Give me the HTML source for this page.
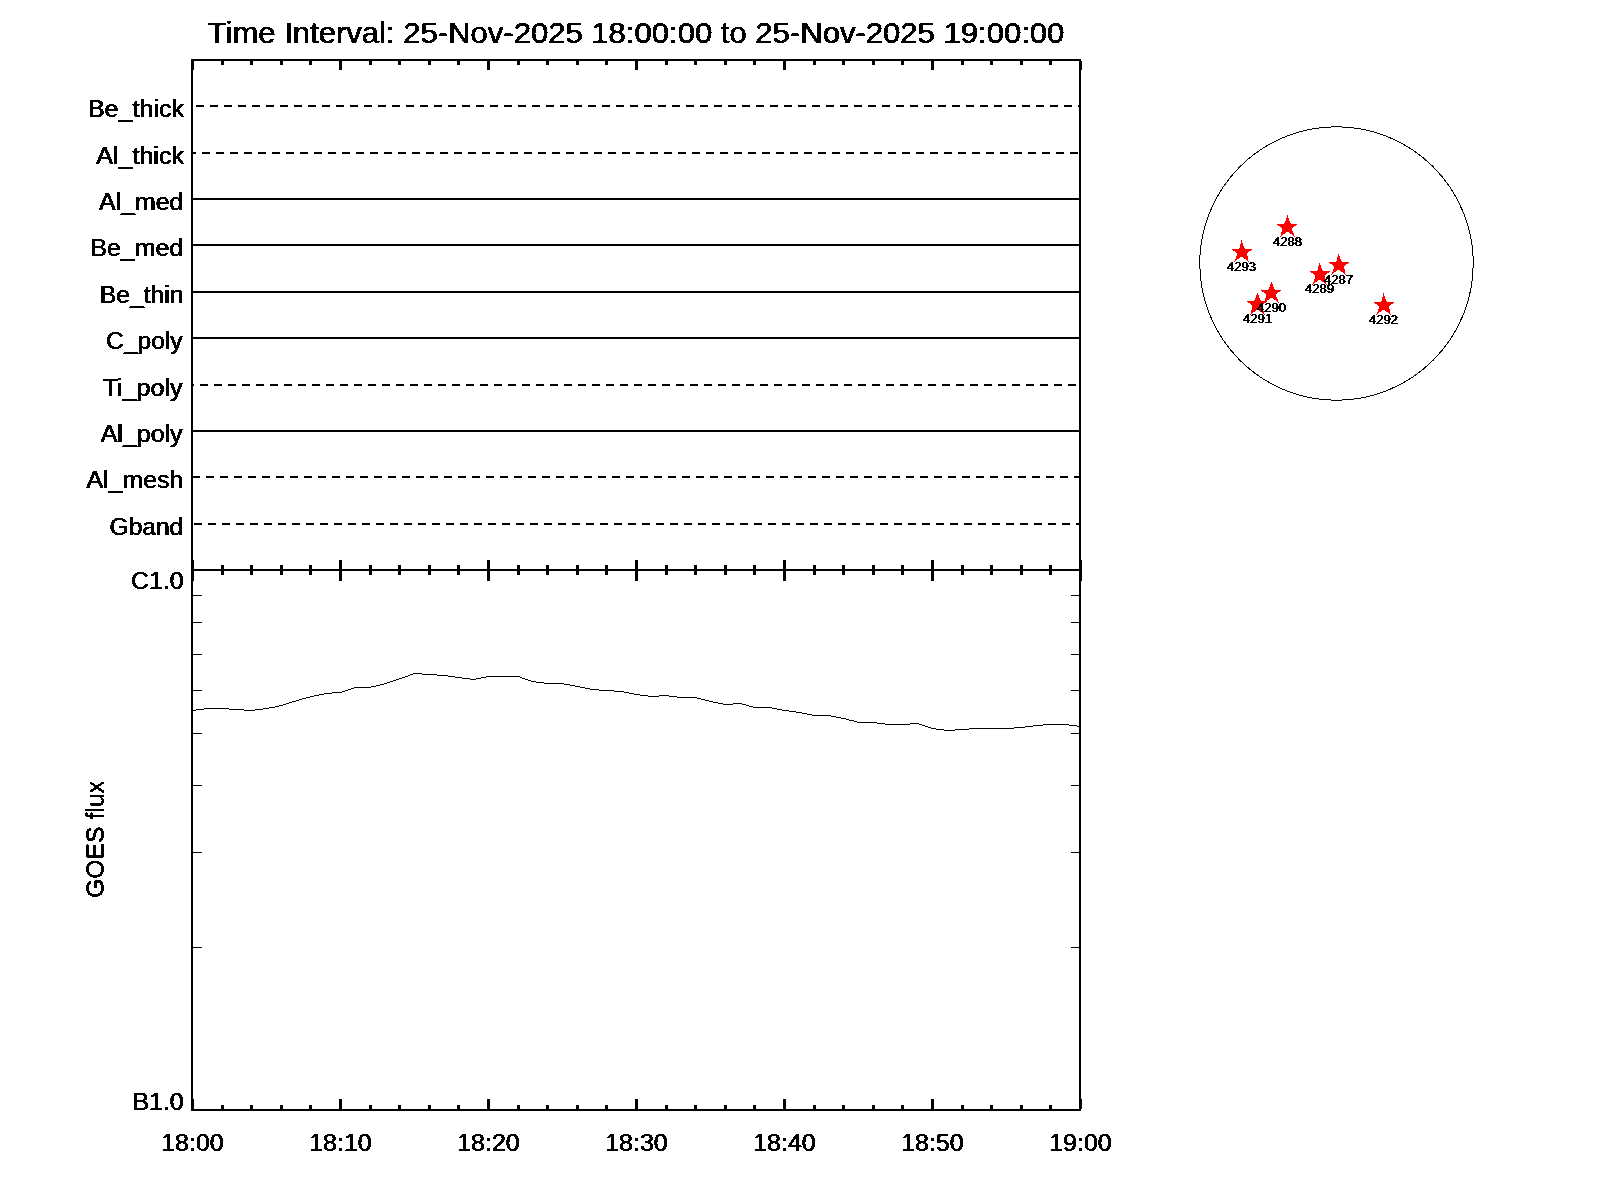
<!DOCTYPE html>
<html><head><meta charset="utf-8"><title>XRT filter timeline</title>
<style>html,body{margin:0;padding:0;background:#fff;}body{width:1600px;height:1200px;overflow:hidden;}svg{display:block;font-family:"Liberation Sans",sans-serif;}text{fill:#000;}</style>
</head><body><div style="will-change:transform;width:1600px;height:1200px">
<svg width="1600" height="1200" viewBox="0 0 1600 1200">
<defs><filter id="thr" filterUnits="userSpaceOnUse" x="0" y="0" width="1600" height="1200" color-interpolation-filters="sRGB"><feComponentTransfer><feFuncA type="discrete" tableValues="0 1"/></feComponentTransfer></filter></defs>
<rect x="0" y="0" width="1600" height="1200" fill="#fff"/>
<g shape-rendering="crispEdges" fill="#000" stroke="none">
<rect x="191" y="59" width="2" height="1052"/>
<rect x="1079" y="59" width="2" height="1052"/>
<rect x="191" y="59" width="890" height="2"/>
<rect x="191" y="569" width="890" height="2"/>
<rect x="191" y="1109" width="890" height="2"/>
<rect x="191" y="61" width="3" height="9"/>
<rect x="191" y="560" width="3" height="21"/>
<rect x="191" y="1099" width="3" height="10"/>
<rect x="221" y="61" width="3" height="4"/>
<rect x="221" y="565" width="3" height="10"/>
<rect x="221" y="1105" width="3" height="4"/>
<rect x="250" y="61" width="3" height="4"/>
<rect x="250" y="565" width="3" height="10"/>
<rect x="250" y="1105" width="3" height="4"/>
<rect x="280" y="61" width="3" height="4"/>
<rect x="280" y="565" width="3" height="10"/>
<rect x="280" y="1105" width="3" height="4"/>
<rect x="309" y="61" width="3" height="4"/>
<rect x="309" y="565" width="3" height="10"/>
<rect x="309" y="1105" width="3" height="4"/>
<rect x="339" y="61" width="3" height="9"/>
<rect x="339" y="560" width="3" height="21"/>
<rect x="339" y="1099" width="3" height="10"/>
<rect x="369" y="61" width="3" height="4"/>
<rect x="369" y="565" width="3" height="10"/>
<rect x="369" y="1105" width="3" height="4"/>
<rect x="398" y="61" width="3" height="4"/>
<rect x="398" y="565" width="3" height="10"/>
<rect x="398" y="1105" width="3" height="4"/>
<rect x="428" y="61" width="3" height="4"/>
<rect x="428" y="565" width="3" height="10"/>
<rect x="428" y="1105" width="3" height="4"/>
<rect x="457" y="61" width="3" height="4"/>
<rect x="457" y="565" width="3" height="10"/>
<rect x="457" y="1105" width="3" height="4"/>
<rect x="487" y="61" width="3" height="9"/>
<rect x="487" y="560" width="3" height="21"/>
<rect x="487" y="1099" width="3" height="10"/>
<rect x="517" y="61" width="3" height="4"/>
<rect x="517" y="565" width="3" height="10"/>
<rect x="517" y="1105" width="3" height="4"/>
<rect x="546" y="61" width="3" height="4"/>
<rect x="546" y="565" width="3" height="10"/>
<rect x="546" y="1105" width="3" height="4"/>
<rect x="576" y="61" width="3" height="4"/>
<rect x="576" y="565" width="3" height="10"/>
<rect x="576" y="1105" width="3" height="4"/>
<rect x="605" y="61" width="3" height="4"/>
<rect x="605" y="565" width="3" height="10"/>
<rect x="605" y="1105" width="3" height="4"/>
<rect x="635" y="61" width="3" height="9"/>
<rect x="635" y="560" width="3" height="21"/>
<rect x="635" y="1099" width="3" height="10"/>
<rect x="665" y="61" width="3" height="4"/>
<rect x="665" y="565" width="3" height="10"/>
<rect x="665" y="1105" width="3" height="4"/>
<rect x="694" y="61" width="3" height="4"/>
<rect x="694" y="565" width="3" height="10"/>
<rect x="694" y="1105" width="3" height="4"/>
<rect x="724" y="61" width="3" height="4"/>
<rect x="724" y="565" width="3" height="10"/>
<rect x="724" y="1105" width="3" height="4"/>
<rect x="753" y="61" width="3" height="4"/>
<rect x="753" y="565" width="3" height="10"/>
<rect x="753" y="1105" width="3" height="4"/>
<rect x="783" y="61" width="3" height="9"/>
<rect x="783" y="560" width="3" height="21"/>
<rect x="783" y="1099" width="3" height="10"/>
<rect x="813" y="61" width="3" height="4"/>
<rect x="813" y="565" width="3" height="10"/>
<rect x="813" y="1105" width="3" height="4"/>
<rect x="842" y="61" width="3" height="4"/>
<rect x="842" y="565" width="3" height="10"/>
<rect x="842" y="1105" width="3" height="4"/>
<rect x="872" y="61" width="3" height="4"/>
<rect x="872" y="565" width="3" height="10"/>
<rect x="872" y="1105" width="3" height="4"/>
<rect x="901" y="61" width="3" height="4"/>
<rect x="901" y="565" width="3" height="10"/>
<rect x="901" y="1105" width="3" height="4"/>
<rect x="931" y="61" width="3" height="9"/>
<rect x="931" y="560" width="3" height="21"/>
<rect x="931" y="1099" width="3" height="10"/>
<rect x="961" y="61" width="3" height="4"/>
<rect x="961" y="565" width="3" height="10"/>
<rect x="961" y="1105" width="3" height="4"/>
<rect x="990" y="61" width="3" height="4"/>
<rect x="990" y="565" width="3" height="10"/>
<rect x="990" y="1105" width="3" height="4"/>
<rect x="1020" y="61" width="3" height="4"/>
<rect x="1020" y="565" width="3" height="10"/>
<rect x="1020" y="1105" width="3" height="4"/>
<rect x="1049" y="61" width="3" height="4"/>
<rect x="1049" y="565" width="3" height="10"/>
<rect x="1049" y="1105" width="3" height="4"/>
<rect x="1079" y="61" width="3" height="9"/>
<rect x="1079" y="560" width="3" height="21"/>
<rect x="1079" y="1099" width="3" height="10"/>
<rect x="193" y="947" width="9" height="1"/>
<rect x="1071" y="947" width="8" height="1"/>
<rect x="193" y="852" width="9" height="1"/>
<rect x="1071" y="852" width="8" height="1"/>
<rect x="193" y="785" width="9" height="1"/>
<rect x="1071" y="785" width="8" height="1"/>
<rect x="193" y="733" width="9" height="1"/>
<rect x="1071" y="733" width="8" height="1"/>
<rect x="193" y="690" width="9" height="1"/>
<rect x="1071" y="690" width="8" height="1"/>
<rect x="193" y="654" width="9" height="1"/>
<rect x="1071" y="654" width="8" height="1"/>
<rect x="193" y="622" width="9" height="1"/>
<rect x="1071" y="622" width="8" height="1"/>
<rect x="193" y="595" width="9" height="1"/>
<rect x="1071" y="595" width="8" height="1"/>
<rect x="196" y="105" width="8" height="2"/>
<rect x="210" y="105" width="8" height="2"/>
<rect x="224" y="105" width="8" height="2"/>
<rect x="238" y="105" width="8" height="2"/>
<rect x="252" y="105" width="8" height="2"/>
<rect x="266" y="105" width="8" height="2"/>
<rect x="280" y="105" width="8" height="2"/>
<rect x="294" y="105" width="8" height="2"/>
<rect x="308" y="105" width="8" height="2"/>
<rect x="322" y="105" width="8" height="2"/>
<rect x="336" y="105" width="8" height="2"/>
<rect x="350" y="105" width="8" height="2"/>
<rect x="364" y="105" width="8" height="2"/>
<rect x="378" y="105" width="8" height="2"/>
<rect x="392" y="105" width="8" height="2"/>
<rect x="406" y="105" width="8" height="2"/>
<rect x="420" y="105" width="8" height="2"/>
<rect x="434" y="105" width="8" height="2"/>
<rect x="448" y="105" width="8" height="2"/>
<rect x="462" y="105" width="8" height="2"/>
<rect x="476" y="105" width="8" height="2"/>
<rect x="490" y="105" width="8" height="2"/>
<rect x="504" y="105" width="8" height="2"/>
<rect x="518" y="105" width="8" height="2"/>
<rect x="532" y="105" width="8" height="2"/>
<rect x="546" y="105" width="8" height="2"/>
<rect x="560" y="105" width="8" height="2"/>
<rect x="574" y="105" width="8" height="2"/>
<rect x="588" y="105" width="8" height="2"/>
<rect x="602" y="105" width="8" height="2"/>
<rect x="616" y="105" width="8" height="2"/>
<rect x="630" y="105" width="8" height="2"/>
<rect x="644" y="105" width="8" height="2"/>
<rect x="658" y="105" width="8" height="2"/>
<rect x="672" y="105" width="8" height="2"/>
<rect x="686" y="105" width="8" height="2"/>
<rect x="700" y="105" width="8" height="2"/>
<rect x="714" y="105" width="8" height="2"/>
<rect x="728" y="105" width="8" height="2"/>
<rect x="742" y="105" width="8" height="2"/>
<rect x="756" y="105" width="8" height="2"/>
<rect x="770" y="105" width="8" height="2"/>
<rect x="784" y="105" width="8" height="2"/>
<rect x="798" y="105" width="8" height="2"/>
<rect x="812" y="105" width="8" height="2"/>
<rect x="826" y="105" width="8" height="2"/>
<rect x="840" y="105" width="8" height="2"/>
<rect x="854" y="105" width="8" height="2"/>
<rect x="868" y="105" width="8" height="2"/>
<rect x="882" y="105" width="8" height="2"/>
<rect x="896" y="105" width="8" height="2"/>
<rect x="910" y="105" width="8" height="2"/>
<rect x="924" y="105" width="8" height="2"/>
<rect x="938" y="105" width="8" height="2"/>
<rect x="952" y="105" width="8" height="2"/>
<rect x="966" y="105" width="8" height="2"/>
<rect x="980" y="105" width="8" height="2"/>
<rect x="994" y="105" width="8" height="2"/>
<rect x="1008" y="105" width="8" height="2"/>
<rect x="1022" y="105" width="8" height="2"/>
<rect x="1036" y="105" width="8" height="2"/>
<rect x="1050" y="105" width="8" height="2"/>
<rect x="1064" y="105" width="8" height="2"/>
<rect x="1078" y="105" width="1" height="2"/>
<rect x="193" y="152" width="3" height="2"/>
<rect x="202" y="152" width="8" height="2"/>
<rect x="216" y="152" width="8" height="2"/>
<rect x="230" y="152" width="8" height="2"/>
<rect x="244" y="152" width="8" height="2"/>
<rect x="258" y="152" width="8" height="2"/>
<rect x="272" y="152" width="8" height="2"/>
<rect x="286" y="152" width="8" height="2"/>
<rect x="300" y="152" width="8" height="2"/>
<rect x="314" y="152" width="8" height="2"/>
<rect x="328" y="152" width="8" height="2"/>
<rect x="342" y="152" width="8" height="2"/>
<rect x="356" y="152" width="8" height="2"/>
<rect x="370" y="152" width="8" height="2"/>
<rect x="384" y="152" width="8" height="2"/>
<rect x="398" y="152" width="8" height="2"/>
<rect x="412" y="152" width="8" height="2"/>
<rect x="426" y="152" width="8" height="2"/>
<rect x="440" y="152" width="8" height="2"/>
<rect x="454" y="152" width="8" height="2"/>
<rect x="468" y="152" width="8" height="2"/>
<rect x="482" y="152" width="8" height="2"/>
<rect x="496" y="152" width="8" height="2"/>
<rect x="510" y="152" width="8" height="2"/>
<rect x="524" y="152" width="8" height="2"/>
<rect x="538" y="152" width="8" height="2"/>
<rect x="552" y="152" width="8" height="2"/>
<rect x="566" y="152" width="8" height="2"/>
<rect x="580" y="152" width="8" height="2"/>
<rect x="594" y="152" width="8" height="2"/>
<rect x="608" y="152" width="8" height="2"/>
<rect x="622" y="152" width="8" height="2"/>
<rect x="636" y="152" width="8" height="2"/>
<rect x="650" y="152" width="8" height="2"/>
<rect x="664" y="152" width="8" height="2"/>
<rect x="678" y="152" width="8" height="2"/>
<rect x="692" y="152" width="8" height="2"/>
<rect x="706" y="152" width="8" height="2"/>
<rect x="720" y="152" width="8" height="2"/>
<rect x="734" y="152" width="8" height="2"/>
<rect x="748" y="152" width="8" height="2"/>
<rect x="762" y="152" width="8" height="2"/>
<rect x="776" y="152" width="8" height="2"/>
<rect x="790" y="152" width="8" height="2"/>
<rect x="804" y="152" width="8" height="2"/>
<rect x="818" y="152" width="8" height="2"/>
<rect x="832" y="152" width="8" height="2"/>
<rect x="846" y="152" width="8" height="2"/>
<rect x="860" y="152" width="8" height="2"/>
<rect x="874" y="152" width="8" height="2"/>
<rect x="888" y="152" width="8" height="2"/>
<rect x="902" y="152" width="8" height="2"/>
<rect x="916" y="152" width="8" height="2"/>
<rect x="930" y="152" width="8" height="2"/>
<rect x="944" y="152" width="8" height="2"/>
<rect x="958" y="152" width="8" height="2"/>
<rect x="972" y="152" width="8" height="2"/>
<rect x="986" y="152" width="8" height="2"/>
<rect x="1000" y="152" width="8" height="2"/>
<rect x="1014" y="152" width="8" height="2"/>
<rect x="1028" y="152" width="8" height="2"/>
<rect x="1042" y="152" width="8" height="2"/>
<rect x="1056" y="152" width="8" height="2"/>
<rect x="1070" y="152" width="8" height="2"/>
<rect x="193" y="198" width="886" height="2"/>
<rect x="193" y="244" width="886" height="2"/>
<rect x="193" y="291" width="886" height="2"/>
<rect x="193" y="337" width="886" height="2"/>
<rect x="193" y="384" width="1" height="2"/>
<rect x="200" y="384" width="8" height="2"/>
<rect x="214" y="384" width="8" height="2"/>
<rect x="228" y="384" width="8" height="2"/>
<rect x="242" y="384" width="8" height="2"/>
<rect x="256" y="384" width="8" height="2"/>
<rect x="270" y="384" width="8" height="2"/>
<rect x="284" y="384" width="8" height="2"/>
<rect x="298" y="384" width="8" height="2"/>
<rect x="312" y="384" width="8" height="2"/>
<rect x="326" y="384" width="8" height="2"/>
<rect x="340" y="384" width="8" height="2"/>
<rect x="354" y="384" width="8" height="2"/>
<rect x="368" y="384" width="8" height="2"/>
<rect x="382" y="384" width="8" height="2"/>
<rect x="396" y="384" width="8" height="2"/>
<rect x="410" y="384" width="8" height="2"/>
<rect x="424" y="384" width="8" height="2"/>
<rect x="438" y="384" width="8" height="2"/>
<rect x="452" y="384" width="8" height="2"/>
<rect x="466" y="384" width="8" height="2"/>
<rect x="480" y="384" width="8" height="2"/>
<rect x="494" y="384" width="8" height="2"/>
<rect x="508" y="384" width="8" height="2"/>
<rect x="522" y="384" width="8" height="2"/>
<rect x="536" y="384" width="8" height="2"/>
<rect x="550" y="384" width="8" height="2"/>
<rect x="564" y="384" width="8" height="2"/>
<rect x="578" y="384" width="8" height="2"/>
<rect x="592" y="384" width="8" height="2"/>
<rect x="606" y="384" width="8" height="2"/>
<rect x="620" y="384" width="8" height="2"/>
<rect x="634" y="384" width="8" height="2"/>
<rect x="648" y="384" width="8" height="2"/>
<rect x="662" y="384" width="8" height="2"/>
<rect x="676" y="384" width="8" height="2"/>
<rect x="690" y="384" width="8" height="2"/>
<rect x="704" y="384" width="8" height="2"/>
<rect x="718" y="384" width="8" height="2"/>
<rect x="732" y="384" width="8" height="2"/>
<rect x="746" y="384" width="8" height="2"/>
<rect x="760" y="384" width="8" height="2"/>
<rect x="774" y="384" width="8" height="2"/>
<rect x="788" y="384" width="8" height="2"/>
<rect x="802" y="384" width="8" height="2"/>
<rect x="816" y="384" width="8" height="2"/>
<rect x="830" y="384" width="8" height="2"/>
<rect x="844" y="384" width="8" height="2"/>
<rect x="858" y="384" width="8" height="2"/>
<rect x="872" y="384" width="8" height="2"/>
<rect x="886" y="384" width="8" height="2"/>
<rect x="900" y="384" width="8" height="2"/>
<rect x="914" y="384" width="8" height="2"/>
<rect x="928" y="384" width="8" height="2"/>
<rect x="942" y="384" width="8" height="2"/>
<rect x="956" y="384" width="8" height="2"/>
<rect x="970" y="384" width="8" height="2"/>
<rect x="984" y="384" width="8" height="2"/>
<rect x="998" y="384" width="8" height="2"/>
<rect x="1012" y="384" width="8" height="2"/>
<rect x="1026" y="384" width="8" height="2"/>
<rect x="1040" y="384" width="8" height="2"/>
<rect x="1054" y="384" width="8" height="2"/>
<rect x="1068" y="384" width="8" height="2"/>
<rect x="193" y="430" width="886" height="2"/>
<rect x="193" y="476" width="7" height="2"/>
<rect x="206" y="476" width="8" height="2"/>
<rect x="220" y="476" width="8" height="2"/>
<rect x="234" y="476" width="8" height="2"/>
<rect x="248" y="476" width="8" height="2"/>
<rect x="262" y="476" width="8" height="2"/>
<rect x="276" y="476" width="8" height="2"/>
<rect x="290" y="476" width="8" height="2"/>
<rect x="304" y="476" width="8" height="2"/>
<rect x="318" y="476" width="8" height="2"/>
<rect x="332" y="476" width="8" height="2"/>
<rect x="346" y="476" width="8" height="2"/>
<rect x="360" y="476" width="8" height="2"/>
<rect x="374" y="476" width="8" height="2"/>
<rect x="388" y="476" width="8" height="2"/>
<rect x="402" y="476" width="8" height="2"/>
<rect x="416" y="476" width="8" height="2"/>
<rect x="430" y="476" width="8" height="2"/>
<rect x="444" y="476" width="8" height="2"/>
<rect x="458" y="476" width="8" height="2"/>
<rect x="472" y="476" width="8" height="2"/>
<rect x="486" y="476" width="8" height="2"/>
<rect x="500" y="476" width="8" height="2"/>
<rect x="514" y="476" width="8" height="2"/>
<rect x="528" y="476" width="8" height="2"/>
<rect x="542" y="476" width="8" height="2"/>
<rect x="556" y="476" width="8" height="2"/>
<rect x="570" y="476" width="8" height="2"/>
<rect x="584" y="476" width="8" height="2"/>
<rect x="598" y="476" width="8" height="2"/>
<rect x="612" y="476" width="8" height="2"/>
<rect x="626" y="476" width="8" height="2"/>
<rect x="640" y="476" width="8" height="2"/>
<rect x="654" y="476" width="8" height="2"/>
<rect x="668" y="476" width="8" height="2"/>
<rect x="682" y="476" width="8" height="2"/>
<rect x="696" y="476" width="8" height="2"/>
<rect x="710" y="476" width="8" height="2"/>
<rect x="724" y="476" width="8" height="2"/>
<rect x="738" y="476" width="8" height="2"/>
<rect x="752" y="476" width="8" height="2"/>
<rect x="766" y="476" width="8" height="2"/>
<rect x="780" y="476" width="8" height="2"/>
<rect x="794" y="476" width="8" height="2"/>
<rect x="808" y="476" width="8" height="2"/>
<rect x="822" y="476" width="8" height="2"/>
<rect x="836" y="476" width="8" height="2"/>
<rect x="850" y="476" width="8" height="2"/>
<rect x="864" y="476" width="8" height="2"/>
<rect x="878" y="476" width="8" height="2"/>
<rect x="892" y="476" width="8" height="2"/>
<rect x="906" y="476" width="8" height="2"/>
<rect x="920" y="476" width="8" height="2"/>
<rect x="934" y="476" width="8" height="2"/>
<rect x="948" y="476" width="8" height="2"/>
<rect x="962" y="476" width="8" height="2"/>
<rect x="976" y="476" width="8" height="2"/>
<rect x="990" y="476" width="8" height="2"/>
<rect x="1004" y="476" width="8" height="2"/>
<rect x="1018" y="476" width="8" height="2"/>
<rect x="1032" y="476" width="8" height="2"/>
<rect x="1046" y="476" width="8" height="2"/>
<rect x="1060" y="476" width="8" height="2"/>
<rect x="1074" y="476" width="5" height="2"/>
<rect x="194" y="523" width="8" height="2"/>
<rect x="208" y="523" width="8" height="2"/>
<rect x="222" y="523" width="8" height="2"/>
<rect x="236" y="523" width="8" height="2"/>
<rect x="250" y="523" width="8" height="2"/>
<rect x="264" y="523" width="8" height="2"/>
<rect x="278" y="523" width="8" height="2"/>
<rect x="292" y="523" width="8" height="2"/>
<rect x="306" y="523" width="8" height="2"/>
<rect x="320" y="523" width="8" height="2"/>
<rect x="334" y="523" width="8" height="2"/>
<rect x="348" y="523" width="8" height="2"/>
<rect x="362" y="523" width="8" height="2"/>
<rect x="376" y="523" width="8" height="2"/>
<rect x="390" y="523" width="8" height="2"/>
<rect x="404" y="523" width="8" height="2"/>
<rect x="418" y="523" width="8" height="2"/>
<rect x="432" y="523" width="8" height="2"/>
<rect x="446" y="523" width="8" height="2"/>
<rect x="460" y="523" width="8" height="2"/>
<rect x="474" y="523" width="8" height="2"/>
<rect x="488" y="523" width="8" height="2"/>
<rect x="502" y="523" width="8" height="2"/>
<rect x="516" y="523" width="8" height="2"/>
<rect x="530" y="523" width="8" height="2"/>
<rect x="544" y="523" width="8" height="2"/>
<rect x="558" y="523" width="8" height="2"/>
<rect x="572" y="523" width="8" height="2"/>
<rect x="586" y="523" width="8" height="2"/>
<rect x="600" y="523" width="8" height="2"/>
<rect x="614" y="523" width="8" height="2"/>
<rect x="628" y="523" width="8" height="2"/>
<rect x="642" y="523" width="8" height="2"/>
<rect x="656" y="523" width="8" height="2"/>
<rect x="670" y="523" width="8" height="2"/>
<rect x="684" y="523" width="8" height="2"/>
<rect x="698" y="523" width="8" height="2"/>
<rect x="712" y="523" width="8" height="2"/>
<rect x="726" y="523" width="8" height="2"/>
<rect x="740" y="523" width="8" height="2"/>
<rect x="754" y="523" width="8" height="2"/>
<rect x="768" y="523" width="8" height="2"/>
<rect x="782" y="523" width="8" height="2"/>
<rect x="796" y="523" width="8" height="2"/>
<rect x="810" y="523" width="8" height="2"/>
<rect x="824" y="523" width="8" height="2"/>
<rect x="838" y="523" width="8" height="2"/>
<rect x="852" y="523" width="8" height="2"/>
<rect x="866" y="523" width="8" height="2"/>
<rect x="880" y="523" width="8" height="2"/>
<rect x="894" y="523" width="8" height="2"/>
<rect x="908" y="523" width="8" height="2"/>
<rect x="922" y="523" width="8" height="2"/>
<rect x="936" y="523" width="8" height="2"/>
<rect x="950" y="523" width="8" height="2"/>
<rect x="964" y="523" width="8" height="2"/>
<rect x="978" y="523" width="8" height="2"/>
<rect x="992" y="523" width="8" height="2"/>
<rect x="1006" y="523" width="8" height="2"/>
<rect x="1020" y="523" width="8" height="2"/>
<rect x="1034" y="523" width="8" height="2"/>
<rect x="1048" y="523" width="8" height="2"/>
<rect x="1062" y="523" width="8" height="2"/>
<rect x="1076" y="523" width="3" height="2"/>
</g>
<path shape-rendering="crispEdges" fill="#000" d="M193 710h3v1h-3zM196 709h8v1h-8zM204 708h25v1h-25zM229 709h15v1h-15zM244 710h11v1h-11zM255 709h8v1h-8zM263 708h6v1h-6zM269 707h6v1h-6zM275 706h4v1h-4zM279 705h4v1h-4zM283 704h3v1h-3zM286 703h3v1h-3zM289 702h3v1h-3zM292 701h4v1h-4zM296 700h3v1h-3zM299 699h3v1h-3zM302 698h4v1h-4zM306 697h4v1h-4zM310 696h4v1h-4zM314 695h5v1h-5zM319 694h5v1h-5zM324 693h8v1h-8zM332 692h10v1h-10zM342 691h3v1h-3zM345 690h3v1h-3zM348 689h3v1h-3zM351 688h3v1h-3zM354 687h17v1h-17zM371 686h5v1h-5zM376 685h4v1h-4zM380 684h4v1h-4zM384 683h3v1h-3zM387 682h3v1h-3zM390 681h3v1h-3zM393 680h3v1h-3zM396 679h3v1h-3zM399 678h3v1h-3zM402 677h3v1h-3zM405 676h3v1h-3zM408 675h2v1h-2zM410 674h3v1h-3zM413 673h9v1h-9zM422 674h15v1h-15zM437 675h11v1h-11zM448 676h7v1h-7zM455 677h7v1h-7zM462 678h8v1h-8zM470 679h6v1h-6zM476 678h5v1h-5zM481 677h5v1h-5zM486 676h34v1h-34zM520 677h2v1h-2zM522 678h3v1h-3zM525 679h3v1h-3zM528 680h3v1h-3zM531 681h5v1h-5zM536 682h8v1h-8zM544 683h20v1h-20zM564 684h6v1h-6zM570 685h5v1h-5zM575 686h5v1h-5zM580 687h5v1h-5zM585 688h5v1h-5zM590 689h9v1h-9zM599 690h15v1h-15zM614 691h10v1h-10zM624 692h5v1h-5zM629 693h5v1h-5zM634 694h6v1h-6zM640 695h8v1h-8zM648 696h11v1h-11zM659 695h10v1h-10zM669 696h8v1h-8zM677 697h20v1h-20zM697 698h4v1h-4zM701 699h4v1h-4zM705 700h4v1h-4zM709 701h4v1h-4zM713 702h5v1h-5zM718 703h5v1h-5zM723 704h10v1h-10zM733 703h9v1h-9zM742 704h4v1h-4zM746 705h3v1h-3zM749 706h4v1h-4zM753 707h19v1h-19zM772 708h5v1h-5zM777 709h5v1h-5zM782 710h7v1h-7zM789 711h7v1h-7zM796 712h6v1h-6zM802 713h5v1h-5zM807 714h5v1h-5zM812 715h19v1h-19zM831 716h5v1h-5zM836 717h5v1h-5zM841 718h5v1h-5zM846 719h3v1h-3zM849 720h5v1h-5zM854 721h3v1h-3zM857 722h20v1h-20zM877 723h8v1h-8zM885 724h25v1h-25zM910 723h9v1h-9zM919 724h3v1h-3zM922 725h3v1h-3zM925 726h3v1h-3zM928 727h3v1h-3zM931 728h5v1h-5zM936 729h8v1h-8zM944 730h11v1h-11zM955 729h14v1h-14zM969 728h45v1h-45zM1014 727h11v1h-11zM1025 726h8v1h-8zM1033 725h10v1h-10zM1043 724h26v1h-26zM1069 725h8v1h-8zM1077 726h3v1h-3z"/>
<circle cx="1336.5" cy="263.5" r="136.75" fill="none" stroke="#000" stroke-width="1" shape-rendering="crispEdges"/>
<path shape-rendering="crispEdges" fill="#ff0000" d="M1338 254h1v1h-1zM1338 255h1v1h-1zM1338 256h2v1h-2zM1337 257h3v1h-3zM1337 258h3v1h-3zM1337 259h4v1h-4zM1337 260h4v1h-4zM1336 261h6v1h-6zM1329 262h20v1h-20zM1330 263h18v1h-18zM1332 264h14v1h-14zM1333 265h12v1h-12zM1334 266h10v1h-10zM1334 267h10v1h-10zM1334 268h10v1h-10zM1333 269h12v1h-12zM1333 270h4v1h-4zM1340 270h5v1h-5zM1333 271h3v1h-3zM1341 271h4v1h-4zM1332 272h2v1h-2zM1343 272h2v1h-2zM1332 273h1v1h-1zM1344 273h1v1h-1zM1331 274h1v1h-1zM1345 274h1v1h-1zM1287 215h1v1h-1zM1287 216h1v1h-1zM1287 217h1v1h-1zM1286 218h3v1h-3zM1286 219h3v1h-3zM1286 220h3v1h-3zM1285 221h5v1h-5zM1285 222h5v1h-5zM1284 223h7v1h-7zM1277 224h20v1h-20zM1278 225h18v1h-18zM1280 226h14v1h-14zM1281 227h12v1h-12zM1282 228h10v1h-10zM1282 229h10v1h-10zM1282 230h10v1h-10zM1282 231h11v1h-11zM1281 232h5v1h-5zM1289 232h4v1h-4zM1281 233h4v1h-4zM1290 233h4v1h-4zM1281 234h2v1h-2zM1292 234h2v1h-2zM1281 235h1v1h-1zM1293 235h1v1h-1zM1280 236h1v1h-1zM1294 236h1v1h-1zM1319 263h1v1h-1zM1319 264h1v1h-1zM1319 265h2v1h-2zM1318 266h3v1h-3zM1318 267h3v1h-3zM1318 268h4v1h-4zM1318 269h4v1h-4zM1317 270h6v1h-6zM1310 271h20v1h-20zM1311 272h18v1h-18zM1313 273h14v1h-14zM1314 274h12v1h-12zM1315 275h10v1h-10zM1315 276h10v1h-10zM1315 277h10v1h-10zM1315 278h10v1h-10zM1314 279h12v1h-12zM1314 280h4v1h-4zM1321 280h5v1h-5zM1314 281h3v1h-3zM1322 281h4v1h-4zM1313 282h2v1h-2zM1324 282h2v1h-2zM1313 283h1v1h-1zM1325 283h1v1h-1zM1312 284h1v1h-1zM1326 284h1v1h-1zM1271 282h1v1h-1zM1271 283h1v1h-1zM1270 284h3v1h-3zM1270 285h3v1h-3zM1270 286h3v1h-3zM1269 287h5v1h-5zM1269 288h5v1h-5zM1268 289h7v1h-7zM1261 290h20v1h-20zM1262 291h18v1h-18zM1264 292h14v1h-14zM1265 293h12v1h-12zM1266 294h10v1h-10zM1266 295h10v1h-10zM1266 296h10v1h-10zM1266 297h11v1h-11zM1265 298h5v1h-5zM1273 298h4v1h-4zM1265 299h4v1h-4zM1274 299h4v1h-4zM1265 300h2v1h-2zM1276 300h2v1h-2zM1265 301h1v1h-1zM1277 301h1v1h-1zM1264 302h1v1h-1zM1278 302h1v1h-1zM1257 293h1v1h-1zM1257 294h1v1h-1zM1256 295h3v1h-3zM1256 296h3v1h-3zM1256 297h3v1h-3zM1255 298h5v1h-5zM1255 299h5v1h-5zM1254 300h7v1h-7zM1247 301h20v1h-20zM1248 302h18v1h-18zM1250 303h14v1h-14zM1251 304h12v1h-12zM1252 305h10v1h-10zM1252 306h10v1h-10zM1252 307h10v1h-10zM1252 308h10v1h-10zM1252 309h11v1h-11zM1251 310h5v1h-5zM1259 310h4v1h-4zM1251 311h4v1h-4zM1260 311h4v1h-4zM1251 312h2v1h-2zM1262 312h2v1h-2zM1251 313h1v1h-1zM1263 313h1v1h-1zM1250 314h1v1h-1zM1264 314h1v1h-1zM1383 293h1v1h-1zM1383 294h1v1h-1zM1383 295h1v1h-1zM1383 296h2v1h-2zM1382 297h3v1h-3zM1382 298h3v1h-3zM1382 299h4v1h-4zM1382 300h4v1h-4zM1381 301h6v1h-6zM1374 302h20v1h-20zM1375 303h18v1h-18zM1377 304h14v1h-14zM1378 305h12v1h-12zM1379 306h10v1h-10zM1379 307h10v1h-10zM1379 308h10v1h-10zM1378 309h12v1h-12zM1378 310h4v1h-4zM1385 310h5v1h-5zM1378 311h3v1h-3zM1386 311h4v1h-4zM1377 312h2v1h-2zM1388 312h2v1h-2zM1377 313h1v1h-1zM1389 313h1v1h-1zM1376 314h1v1h-1zM1390 314h1v1h-1zM1241 240h1v1h-1zM1241 241h1v1h-1zM1241 242h1v1h-1zM1241 243h2v1h-2zM1240 244h3v1h-3zM1240 245h3v1h-3zM1240 246h4v1h-4zM1240 247h4v1h-4zM1239 248h6v1h-6zM1232 249h20v1h-20zM1233 250h18v1h-18zM1235 251h14v1h-14zM1236 252h12v1h-12zM1237 253h10v1h-10zM1237 254h10v1h-10zM1237 255h10v1h-10zM1236 256h12v1h-12zM1236 257h4v1h-4zM1243 257h5v1h-5zM1236 258h3v1h-3zM1244 258h4v1h-4zM1235 259h2v1h-2zM1246 259h2v1h-2zM1235 260h1v1h-1zM1247 260h1v1h-1zM1234 261h1v1h-1zM1248 261h1v1h-1z"/>
<g filter="url(#thr)">
<g font-size="13" text-anchor="middle">
<text x="1338.0" y="284.0">4287</text>
<text x="1339.0" y="284.0">4287</text>
<text x="1287.0" y="245.7">4288</text>
<text x="1288.0" y="245.7">4288</text>
<text x="1319.0" y="293.0">4289</text>
<text x="1320.0" y="293.0">4289</text>
<text x="1271.0" y="312.0">4290</text>
<text x="1272.0" y="312.0">4290</text>
<text x="1257.0" y="323.0">4291</text>
<text x="1258.0" y="323.0">4291</text>
<text x="1383.0" y="323.7">4292</text>
<text x="1384.0" y="323.7">4292</text>
<text x="1241.0" y="270.7">4293</text>
<text x="1242.0" y="270.7">4293</text>
</g>
<text transform="translate(635.5 43) scale(1.025 1.0)" font-size="30.3" text-anchor="middle" >Time Interval: 25-Nov-2025 18:00:00 to 25-Nov-2025 19:00:00</text>
<text transform="translate(636.5 43) scale(1.025 1.0)" font-size="30.3" text-anchor="middle" >Time Interval: 25-Nov-2025 18:00:00 to 25-Nov-2025 19:00:00</text>
<text transform="translate(183.51 117) scale(1.0109 1.0)" font-size="24.8" text-anchor="end" >Be_thick</text>
<text transform="translate(184.51 117) scale(1.0109 1.0)" font-size="24.8" text-anchor="end" >Be_thick</text>
<text transform="translate(183.51 164) scale(1.0116 1.0)" font-size="24.8" text-anchor="end" >Al_thick</text>
<text transform="translate(184.51 164) scale(1.0116 1.0)" font-size="24.8" text-anchor="end" >Al_thick</text>
<text transform="translate(182.8 210) scale(1.0036 1.0)" font-size="24.8" text-anchor="end" >Al_med</text>
<text transform="translate(183.8 210) scale(1.0036 1.0)" font-size="24.8" text-anchor="end" >Al_med</text>
<text transform="translate(182.8 256) scale(1.0068 1.0)" font-size="24.8" text-anchor="end" >Be_med</text>
<text transform="translate(183.8 256) scale(1.0068 1.0)" font-size="24.8" text-anchor="end" >Be_med</text>
<text transform="translate(183.11 303) scale(0.9987 1.0)" font-size="24.8" text-anchor="end" >Be_thin</text>
<text transform="translate(184.11 303) scale(0.9987 1.0)" font-size="24.8" text-anchor="end" >Be_thin</text>
<text transform="translate(182.09 349) scale(0.9895 1.0)" font-size="24.8" text-anchor="end" >C_poly</text>
<text transform="translate(183.09 349) scale(0.9895 1.0)" font-size="24.8" text-anchor="end" >C_poly</text>
<text transform="translate(182.11 396) scale(1.0117 1.0)" font-size="24.8" text-anchor="end" >Ti_poly</text>
<text transform="translate(183.11 396) scale(1.0117 1.0)" font-size="24.8" text-anchor="end" >Ti_poly</text>
<text transform="translate(182.11 442) scale(1.0076 1.0)" font-size="24.8" text-anchor="end" >Al_poly</text>
<text transform="translate(183.11 442) scale(1.0076 1.0)" font-size="24.8" text-anchor="end" >Al_poly</text>
<text transform="translate(182.8 488) scale(1.0033 1.0)" font-size="24.8" text-anchor="end" >Al_mesh</text>
<text transform="translate(183.8 488) scale(1.0033 1.0)" font-size="24.8" text-anchor="end" >Al_mesh</text>
<text transform="translate(182.78 535) scale(0.9903 1.0)" font-size="24.8" text-anchor="end" >Gband</text>
<text transform="translate(183.78 535) scale(0.9903 1.0)" font-size="24.8" text-anchor="end" >Gband</text>
<text transform="translate(183.1 589) scale(1.004 1.0)" font-size="24.8" text-anchor="end" >C1.0</text>
<text transform="translate(184.1 589) scale(1.004 1.0)" font-size="24.8" text-anchor="end" >C1.0</text>
<text transform="translate(183.1 1110) scale(1.004 1.0)" font-size="24.8" text-anchor="end" >B1.0</text>
<text transform="translate(184.1 1110) scale(1.004 1.0)" font-size="24.8" text-anchor="end" >B1.0</text>
<text transform="translate(191.92 1151) scale(1.006 1.0)" font-size="24.8" text-anchor="middle" >18:00</text>
<text transform="translate(192.92 1151) scale(1.006 1.0)" font-size="24.8" text-anchor="middle" >18:00</text>
<text transform="translate(339.92 1151) scale(1.006 1.0)" font-size="24.8" text-anchor="middle" >18:10</text>
<text transform="translate(340.92 1151) scale(1.006 1.0)" font-size="24.8" text-anchor="middle" >18:10</text>
<text transform="translate(487.92 1151) scale(1.006 1.0)" font-size="24.8" text-anchor="middle" >18:20</text>
<text transform="translate(488.92 1151) scale(1.006 1.0)" font-size="24.8" text-anchor="middle" >18:20</text>
<text transform="translate(635.92 1151) scale(1.006 1.0)" font-size="24.8" text-anchor="middle" >18:30</text>
<text transform="translate(636.92 1151) scale(1.006 1.0)" font-size="24.8" text-anchor="middle" >18:30</text>
<text transform="translate(783.92 1151) scale(1.006 1.0)" font-size="24.8" text-anchor="middle" >18:40</text>
<text transform="translate(784.92 1151) scale(1.006 1.0)" font-size="24.8" text-anchor="middle" >18:40</text>
<text transform="translate(931.92 1151) scale(1.006 1.0)" font-size="24.8" text-anchor="middle" >18:50</text>
<text transform="translate(932.92 1151) scale(1.006 1.0)" font-size="24.8" text-anchor="middle" >18:50</text>
<text transform="translate(1079.92 1151) scale(1.006 1.0)" font-size="24.8" text-anchor="middle" >19:00</text>
<text transform="translate(1080.92 1151) scale(1.006 1.0)" font-size="24.8" text-anchor="middle" >19:00</text>
<text transform="translate(103.2 839.5) rotate(-90) scale(1.0 1)" font-size="24.8" text-anchor="middle">GOES flux</text>
<text transform="translate(104.2 839.5) rotate(-90) scale(1.0 1)" font-size="24.8" text-anchor="middle">GOES flux</text>
</g>
</svg></div></body></html>
